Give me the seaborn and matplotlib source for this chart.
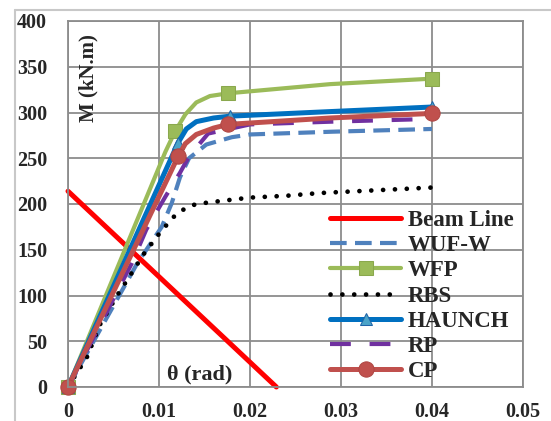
import matplotlib
matplotlib.use('Agg')
import matplotlib.pyplot as plt
import seaborn as sns
from matplotlib.lines import Line2D
from matplotlib.text import Text
from matplotlib.font_manager import FontProperties, findfont

# values
beam_x = [0, 0.0229]
beam_y = [214, 0]

wufw_x = [0, 0.0076, 0.0103, 0.0114, 0.0123, 0.0133, 0.0152, 0.018, 0.020, 0.029, 0.040]
wufw_y = [0, 135, 175, 201, 229, 250, 265, 273, 276, 279, 282]

wfp_x = [0, 0.0107, 0.0118, 0.0129, 0.0141, 0.0156, 0.0176, 0.0288, 0.040]
wfp_y = [0, 257, 280, 298, 311, 318, 321, 331, 337]
wfp_marks = [0, 2, 6, 8]

rbs_x = [0, 0.0021, 0.0035, 0.0054, 0.0069, 0.0083, 0.0099, 0.0115, 0.0125,
         0.0138, 0.0149, 0.0174, 0.020, 0.024, 0.0277, 0.040]
rbs_y = [0, 33, 68, 100, 123, 145, 166, 185, 193, 199, 201, 204, 207, 209, 212, 218]

haunch_x = [0, 0.0121, 0.0130, 0.0141, 0.0160, 0.0178, 0.0288, 0.040]
haunch_y = [0, 267, 282, 290, 294, 296, 301, 306]
haunch_marks = [0, 1, 5, 7]

rp_x = [0, 0.0070, 0.0086, 0.0107, 0.0123, 0.0133, 0.0154, 0.020, 0.029, 0.040]
rp_y = [0, 135, 172, 208, 234, 252, 277, 287, 290, 293]

cp_x = [0, 0.0121, 0.0129, 0.0141, 0.0160, 0.0176, 0.0288, 0.040]
cp_y = [0, 252, 266, 276, 283, 287, 294, 299]
cp_marks = [0, 1, 5, 7]

x_ticks = [0, 0.01, 0.02, 0.03, 0.04, 0.05]
x_tick_labels = ['0', '0.01', '0.02', '0.03', '0.04', '0.05']
y_ticks = [0, 50, 100, 150, 200, 250, 300, 350, 400]

sns.set_style('white')
plt.rcParams['font.family'] = ['Liberation Serif', 'DejaVu Serif']
plt.rcParams['font.weight'] = 'bold'

fig = plt.figure(figsize=(5.51, 4.21), dpi=100)
ax = fig.add_axes([68/551, 1-387/421, 455/551, 366/421])
ax.grid(True, color='#8c8c8c', lw=1.3)
for s in ax.spines.values():
    s.set_color('#8c8c8c')
    s.set_linewidth(1.3)

common = dict(ax=ax, sort=False, estimator=None, clip_on=False)
sns.lineplot(x=beam_x, y=beam_y, color='#ff0000', lw=3.6, label='Beam Line', **common)
sns.lineplot(x=wufw_x, y=wufw_y, color='#4f81bd', lw=3,
             linestyle=(0, (4, 2)), label='WUF-W', **common)
sns.lineplot(x=wfp_x, y=wfp_y, color='#9bbb59', lw=3, marker='s',
             markersize=10, markevery=wfp_marks, mfc='#9bbb59', mec='#8aa84d',
             label='WFP', **common)
sns.lineplot(x=rbs_x, y=rbs_y, color='black', lw=3.4,
             linestyle=(0, (0.01, 2.5)), dash_capstyle='round', label='RBS', **common)
sns.lineplot(x=haunch_x, y=haunch_y, color='#0070c0', lw=3.6, marker='^',
             markersize=9, markevery=haunch_marks, mfc='#4aa3c8', mec='#1f64a8',
             label='HAUNCH', **common)
sns.lineplot(x=rp_x, y=rp_y, color='#7030a0', lw=3,
             linestyle=(0, (5, 4.5)), label='RP', **common)
sns.lineplot(x=cp_x, y=cp_y, color='#c0504d', lw=3.6, marker='o',
             markersize=11, markevery=cp_marks, mfc='#c0504d', mec='#b04744',
             label='CP', **common)

ax.set_xlim(0, 0.05)
ax.set_ylim(0, 400)
ax.set_xticks(x_ticks)
ax.set_xticklabels(x_tick_labels)
ax.set_yticks(y_ticks)
ax.set_yticklabels([str(v) for v in y_ticks])
ax.tick_params(length=0, labelsize=14.5)
ax.tick_params(axis='x', pad=11)
ax.tick_params(axis='y', pad=15)

ax.set_ylabel('M (kN.m)', fontsize=15, fontweight='bold', va='center')
ax.yaxis.set_label_coords(0.044, 0.844)
ax.set_xlabel('θ (rad)', fontsize=16, fontweight='bold', va='center')
ax.xaxis.set_label_coords(0.290, 0.033)

ax.legend(loc='center left', bbox_to_anchor=(330/551, 1-296/421),
          bbox_transform=fig.transFigure, frameon=False, fontsize=16.5,
          numpoints=1, handlelength=3.1, handletextpad=0.3,
          labelspacing=0.18, borderpad=0, borderaxespad=0)

# light outer frame
fig.add_artist(Line2D([15/551, 1], [1-10/421, 1-10/421], transform=fig.transFigure,
                      color='#c8c8c8', lw=1.5))
fig.add_artist(Line2D([15/551, 15/551], [0, 1-10/421], transform=fig.transFigure,
                      color='#c8c8c8', lw=1.5))

# make sure tick labels come out bold
fig.canvas.draw()
tick_font = FontProperties(family='Liberation Serif', weight='bold', size=14.5)
for lbl in ax.get_xticklabels() + ax.get_yticklabels():
    lbl.set_fontproperties(tick_font)

fig.savefig('out.png', dpi=100)

# check what was drawn for the tick labels
bad = []
for t in fig.findobj(Text):
    if t.get_visible() and t.get_text() in ('400', '0.01'):
        p = t.get_fontproperties()
        path = findfont(p)
        if 'Bold' not in path or abs(p.get_size() - 14.5) > 0.1:
            bad.append((t.get_text(), p.get_weight(), p.get_size(), path))
if bad:
    raise SystemExit('tick font check: ' + repr(bad))
